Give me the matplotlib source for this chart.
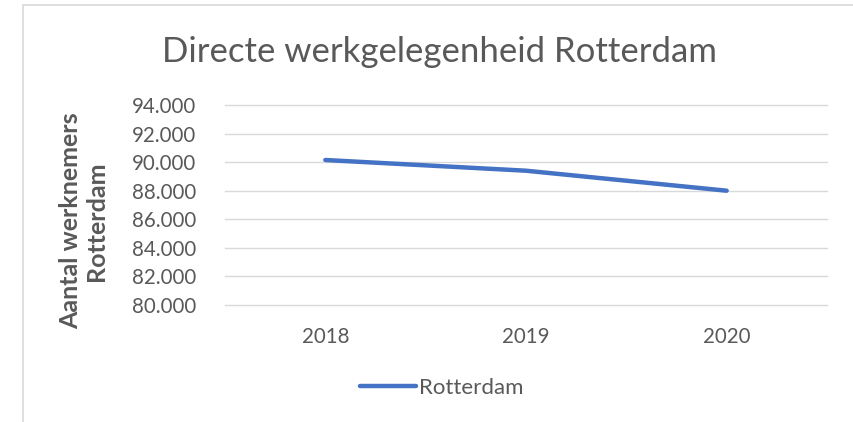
import matplotlib
matplotlib.use("Agg")
import matplotlib.pyplot as plt
from matplotlib.patches import Rectangle

years = ["2018", "2019", "2020"]
werknemers = [90150, 89400, 88000]
y_ticks = [80000, 82000, 84000, 86000, 88000, 90000, 92000, 94000]
y_ticklabels = ["80.000", "82.000", "84.000", "86.000", "88.000", "90.000", "92.000", "94.000"]

W, H = 854, 422
plt.rcParams["font.family"] = ["Lato", "DejaVu Sans"]
txt = "#595959"
grid = "#d9d9d9"
blue = "#4472C4"

fig = plt.figure(figsize=(W / 100, H / 100), dpi=100)

# chart frame (light grey border, cut off at right and bottom)
fig.patches.append(Rectangle((23 / W, -0.1), 1.2, 1 - 5 / H + 0.1, transform=fig.transFigure,
                             fill=False, edgecolor=grid, lw=1.2))

ax = fig.add_axes([225 / W, 1 - 305 / H, (827 - 225) / W, 200 / H])
x = range(len(years))
ax.plot(x, werknemers, color=blue, lw=3.2, solid_capstyle="round", label="Rotterdam")
ax.set_xlim(-0.5, 2.5)
ax.set_ylim(80000, 94000)
ax.set_yticks(y_ticks)
ax.set_yticklabels(y_ticklabels)
ax.set_xticks(list(x))
ax.set_xticklabels(years)
ax.grid(axis="y", color=grid, lw=1)
for gl in ax.get_ygridlines():
    gl.set_clip_on(False)
ax.set_axisbelow(True)
for s in ax.spines.values():
    s.set_visible(False)
ax.tick_params(length=0, labelsize=14.8, colors=txt)
ax.tick_params(axis="y", pad=21)
ax.tick_params(axis="x", pad=16)

ax.set_ylabel("Aantal werknemers\nRotterdam", fontsize=18, fontweight="bold",
              color=txt, linespacing=1.15)
ax.yaxis.set_label_coords(-0.195, 0.42)

fig.text(440 / W, 1 - 52 / H, "Directe werkgelegenheid Rotterdam", ha="center", va="center",
         fontsize=25, color=txt)

fig.legend(loc="center", bbox_to_anchor=(442 / W, 1 - 388 / H), frameon=False,
           fontsize=16, labelcolor=txt, handlelength=2.5, handletextpad=0.15)

fig.savefig("out.png", dpi=100)
